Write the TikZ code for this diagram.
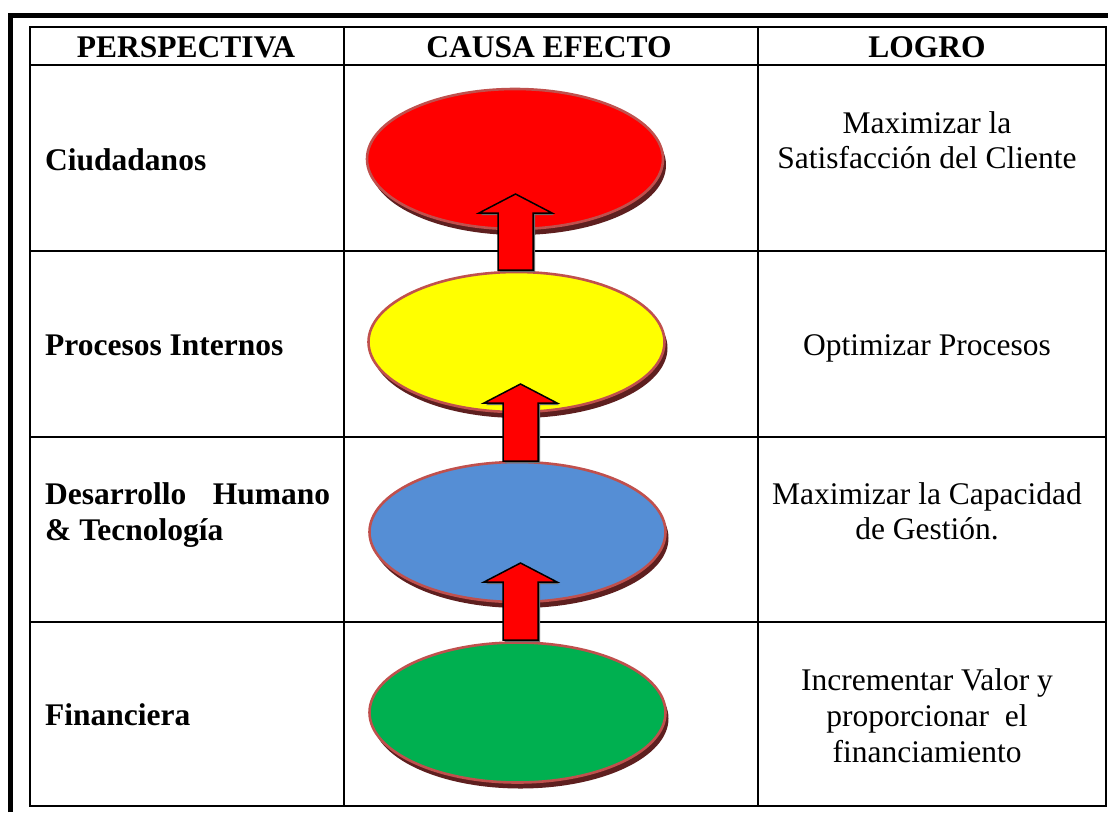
\documentclass[tikz,border=0pt]{standalone}
\usepackage{fontspec}
\setmainfont{Liberation Serif}
\usetikzlibrary{shapes.geometric,shadows}
\definecolor{ellborder}{HTML}{C0504D}
\definecolor{ellshadow}{HTML}{5E1F1F}
\definecolor{cred}{HTML}{FF0000}
\definecolor{cyellow}{HTML}{FFFF00}
\definecolor{cblue}{HTML}{558ED5}
\definecolor{cgreen}{HTML}{00B050}
\definecolor{arrshadow}{HTML}{6A6A6A}
\tikzset{
  frame/.style={line width=5pt, line join=miter},
  gridline/.style={line width=2pt},
  hdr/.style={font=\fontsize{31.5}{36}\selectfont\bfseries, anchor=base, inner sep=0pt},
  lbl/.style={font=\fontsize{31.5}{36}\selectfont\bfseries, anchor=base west, inner sep=0pt},
  goal/.style={font=\fontsize{31.5}{36}\selectfont, anchor=base, inner sep=0pt},
  disc/.style={ellipse, draw=ellborder, line width=2.6pt, minimum width=296pt,
    minimum height=140pt, inner sep=0pt,
    general shadow={fill=ellshadow, shadow xshift=3pt, shadow yshift=-6pt}},
  arrbody/.style={fill=cred, draw=black, line width=1.5pt, line join=miter},
  pics/uparr/.style={code={
    \fill[arrshadow] (2,2) -- (38.5,21) -- (19.5,21) -- (19.5,#1+2) -- (-15.5,#1+2)
      -- (-15.5,21) -- (-34.5,21) -- cycle;
    \draw[arrbody] (0,0) -- (36.5,19) -- (17.5,19) -- (17.5,#1) -- (-17.5,#1)
      -- (-17.5,19) -- (-36.5,19) -- cycle;
  }}
}
\begin{document}
\begin{tikzpicture}[x=1pt,y=-1pt]
\useasboundingbox (0,0) rectangle (1108,812);
% outer frame (partly visible)
\draw[frame] (10.5,812) -- (10.5,15.5) -- (1108,15.5);
% table
\draw[gridline] (30,27) rectangle (1106,806);
\draw[gridline] (30,65) -- (1106,65);
\draw[gridline] (30,251) -- (1106,251);
\draw[gridline] (30,437) -- (1106,437);
\draw[gridline] (30,622) -- (1106,622);
\draw[gridline] (344,27) -- (344,806);
\draw[gridline] (758,27) -- (758,806);
% headers
\node[hdr] (h1) at (186,57) {PERSPECTIVA};
\node[hdr] (h2) at (549,57) {CAUSA EFECTO};
\node[hdr] (h3) at (927,57) {LOGRO};
% perspectives
\node[lbl] (p1) at (45,170) {Ciudadanos};
\node[lbl] (p2) at (45,355) {Procesos Internos};
\node[lbl] (p3a) at (45,504) {\hbox to 285pt{Desarrollo\hfill Humano}};
\node[lbl] (p3b) at (45,540) {\& Tecnología};
\node[lbl] (p4) at (45,725) {Financiera};
% goals
\node[goal] (g1a) at (927,133) {Maximizar la};
\node[goal] (g1b) at (927,168) {Satisfacción del Cliente};
\node[goal] (g2) at (927,355) {Optimizar Procesos};
\node[goal] (g3a) at (927,504) {Maximizar la Capacidad};
\node[goal] (g3b) at (927,539) {de Gestión.};
\node[goal] (g4a) at (927,690) {Incrementar Valor y};
\node[goal] (g4b) at (927,726) {proporcionar\ \ el};
\node[goal] (g4c) at (927,762) {financiamiento};
% cause-effect ellipses
\node[disc, fill=cred] (ered) at (515,159) {};
\node[disc, fill=cyellow] (eyel) at (516.5,342) {};
\node[disc, fill=cblue] (eblue) at (517.5,532) {};
\node[disc, fill=cgreen] (egreen) at (517.5,712.5) {};
% block arrows
\pic at (515.5,194) {uparr=76};
\pic at (520.5,384) {uparr=77};
\pic at (520.5,563) {uparr=77};
\end{tikzpicture}
\end{document}
